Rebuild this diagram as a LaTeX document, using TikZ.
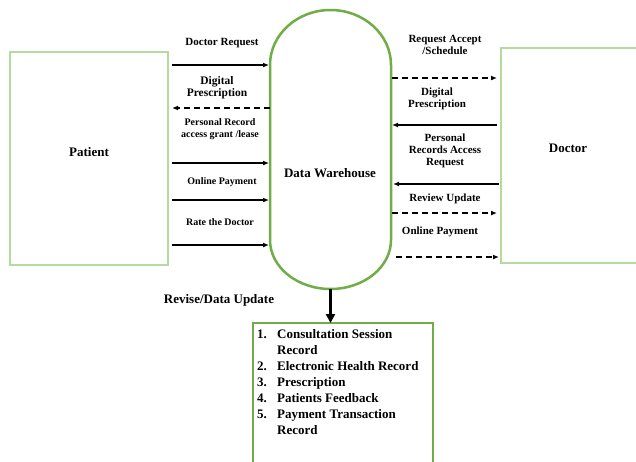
\documentclass[tikz,border=0pt]{standalone}
\usepackage{fontspec}
\setmainfont{Liberation Serif}
\usetikzlibrary{arrows.meta}
\definecolor{dwgreen}{HTML}{70AD47}
\definecolor{boxgreen}{HTML}{B5DA9E}

\begin{document}
\begin{tikzpicture}[x=1pt,y=-1pt,
  lbl/.style={font=\bfseries\fontsize{11}{12}\selectfont, align=center, inner sep=0pt},
  lblsm/.style={font=\bfseries\fontsize{10}{12}\selectfont, align=center, inner sep=0pt},
  big/.style={font=\bfseries\fontsize{13}{16}\selectfont, inner sep=0pt},
  flow/.style={line width=1.6pt, -{Latex[length=6pt,width=5pt]}},
  dflow/.style={flow, dash pattern=on 6pt off 4pt},
  actor/.style={draw=boxgreen, line width=1.5pt},
  tank/.style={draw=dwgreen, line width=2.5pt}]

\useasboundingbox (0,0) rectangle (636,461);
\fill[white] (0,0) rectangle (636,461);

% external entities
\draw[actor] (10,52) rectangle (168,265);
\node[big] (patient) at (89,152) {Patient};
\draw[actor] (640,48) -- (501,48) -- (501,263) -- (640,263);
\node[big] (doctor) at (568,148) {Doctor};

% data warehouse drum
\draw[tank] (270,240) -- (270,65)
  arc[start angle=180, end angle=360, x radius=60.5, y radius=55]
  -- (391,240)
  arc[start angle=0, end angle=180, x radius=60.5, y radius=49] -- cycle;
\node[big] (dw) at (330,173) {Data Warehouse};
\coordinate (dwbot) at (330.5,289);

% record store
\draw[tank] (253,470) -- (253,323) -- (433,323) -- (433,470);
\coordinate (sttop) at (330.5,323);
\node[big, anchor=north west] (records) at (257,326.8) {%
  \begin{tabular}{@{}l@{\hspace{10.25pt}}l@{}}
  1. & Consultation Session\\
     & Record\\
  2. & Electronic Health Record\\
  3. & Prescription\\
  4. & Patients Feedback\\
  5. & Payment Transaction\\
     & Record
  \end{tabular}};

\draw[line width=3pt, -{Triangle[length=9pt,width=9pt]}] (dwbot) -- (sttop);
\node[big] (revise) at (219,300) {Revise/Data Update};

% patient side end points
\coordinate (pa) at (172,65);   \coordinate (wa) at (269,65);
\coordinate (pb) at (172,108);  \coordinate (wb) at (270,108);
\coordinate (pc) at (172,163);  \coordinate (wc) at (269,163);
\coordinate (pd) at (172,200);  \coordinate (wd) at (269,200);
\coordinate (pe) at (172,245);  \coordinate (we) at (269,245);

\draw[flow]  (pa) -- (wa);
\draw[dflow] (wb) -- (pb);
\draw[flow]  (pc) -- (wc);
\draw[flow]  (pd) -- (wd);
\draw[flow]  (pe) -- (we);

\node[lbl]   (l1) at (222,43)  {Doctor Request};
\node[font=\bfseries\fontsize{11.5}{12}\selectfont, align=center, inner sep=0pt] (l2) at (217,88) {Digital\\Prescription};
\node[lblsm] (l3) at (220,129) {Personal Record\\access grant /lease};
\node[lblsm] (l4) at (222,182) {Online Payment};
\node[lblsm] (l5) at (220,222) {Rate the Doctor};

% doctor side end points
\coordinate (xa) at (392,78);   \coordinate (da) at (497,78);
\coordinate (xb) at (392,125);  \coordinate (db) at (497,125);
\coordinate (xc) at (393,184);  \coordinate (dc) at (499,184);
\coordinate (xd) at (392,213);  \coordinate (dd) at (497,213);
\coordinate (xe) at (396,257);  \coordinate (de) at (499,257);

\draw[dflow] (xa) -- (da);
\draw[flow]  (db) -- (xb);
\draw[flow]  (dc) -- (xc);
\draw[dflow] (xd) -- (dd);
\draw[dflow] (xe) -- (de);

\node[lbl] (r1) at (445,45)  {Request Accept\\/Schedule};
\node[lbl] (r2) at (437,99)  {Digital\\Prescription};
\node[lbl] (r3) at (445,151) {Personal\\Records Access\\Request};
\node[lbl] (r4) at (445,199) {Review Update};
\node[lbl] (r5) at (440,232) {Online Payment};
\end{tikzpicture}
\end{document}
